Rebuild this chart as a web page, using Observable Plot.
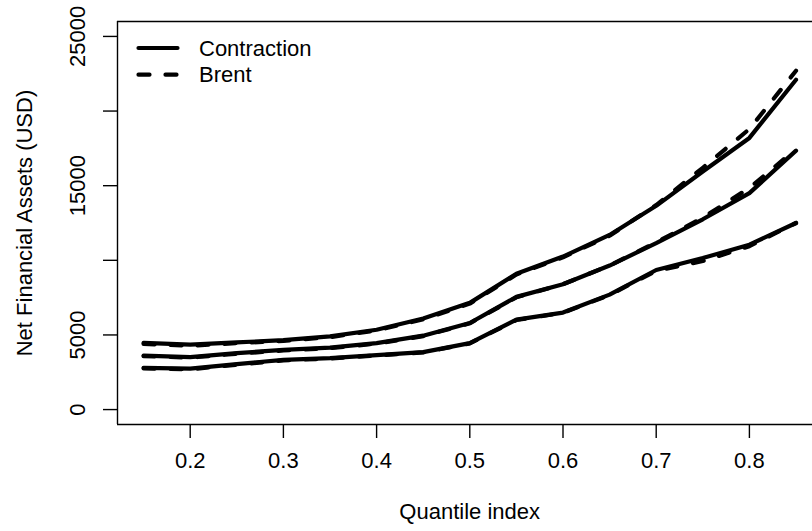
<!DOCTYPE html>
<html>
<head>
<meta charset="utf-8">
<script src="https://cdn.jsdelivr.net/npm/d3@7"></script>
<script src="https://cdn.jsdelivr.net/npm/@observablehq/plot@0.6"></script>
<style>
  html, body { margin: 0; padding: 0; background: #fff; }
  #chart svg { display: block; }
</style>
</head>
<body>
<div id="chart"></div>
<script>
// ---- data ----
const quantiles = [0.15, 0.2, 0.25, 0.3, 0.35, 0.4, 0.45, 0.5, 0.55, 0.6, 0.65, 0.7, 0.75, 0.8, 0.85];

const upperContraction = [4465, 4350, 4500, 4650, 4900, 5350, 6100, 7150, 9100, 10250, 11700, 13650, 15950, 18200, 22100];
const upperBrent       = [4400, 4280, 4450, 4600, 4850, 5300, 6050, 7100, 9050, 10200, 11650, 13700, 16200, 18800, 22700];

const middleContraction = [3620, 3520, 3780, 4000, 4150, 4450, 4950, 5800, 7550, 8400, 9650, 11150, 12750, 14500, 17350];
const middleBrent       = [3580, 3480, 3740, 3960, 4110, 4420, 4920, 5780, 7520, 8400, 9650, 11200, 12850, 14850, 17450];

const lowerContraction = [2800, 2740, 3050, 3330, 3450, 3650, 3850, 4450, 6030, 6500, 7700, 9350, 10150, 11050, 12500];
const lowerBrent       = [2760, 2700, 3000, 3300, 3420, 3620, 3830, 4430, 6000, 6480, 7680, 9300, 9950, 10950, 12500];

const seriesNames = ["Contraction", "Brent"];
const xTicks = [0.2, 0.3, 0.4, 0.5, 0.6, 0.7, 0.8];
const yTicks = [0, 5000, 10000, 15000, 20000, 25000];
const yTickLabels = [0, 5000, 15000, 25000];
const xLabel = "Quantile index";
const yLabel = "Net Financial Assets (USD)";

// ---- table for the library ----
const groups = [
  ["upper", upperContraction, upperBrent],
  ["middle", middleContraction, middleBrent],
  ["lower", lowerContraction, lowerBrent]
];
const rows = [];
for (const [g, c, b] of groups) {
  quantiles.forEach((q, i) => {
    rows.push({q, v: c[i], series: seriesNames[0], group: g});
    rows.push({q, v: b[i], series: seriesNames[1], group: g});
  });
}

// ---- layout (R base-graphics look) ----
const W = 812, H = 531;
const ML = 117, MT = 21, MB = 107, MR = 0;
const FS = 22;          // font size px
const LW = 4.2;         // line width of curves
const BW = 1.4;         // box / tick width
const DASH = "11,16";
const FONT = "'Liberation Sans', Arial, Helvetica, sans-serif";

// R usr ranges: data range extended by 4%; the right part of the plot region is cut by the image edge
const xMin = d3.min(quantiles), xMax = d3.max(quantiles);
const xPad = 0.04 * (xMax - xMin);
const regionWidth = 704.6; // full R plot region width in px
const xDomain = [xMin - xPad, (xMin - xPad) + (xMax - xMin + 2 * xPad) * (W - ML - MR) / regionWidth];
const yDomain = [0 - 0.04 * 25000, 25000 + 0.04 * 25000];

function legendMark(index, scales, values, dimensions) {
  const g = d3.create("svg:g")
    .attr("font-family", FONT).attr("font-size", FS).attr("text-anchor", "start");
  const x0 = dimensions.marginLeft, y0 = dimensions.marginTop;
  seriesNames.forEach((name, i) => {
    const y = y0 + 27 + i * 26.7;
    const ln = g.append("line")
      .attr("x1", x0 + 21.5).attr("x2", x0 + 60.5)
      .attr("y1", y).attr("y2", y)
      .attr("stroke", "black").attr("stroke-width", LW)
      .attr("stroke-linecap", "round");
    if (i === 1) ln.attr("stroke-dasharray", DASH);
    g.append("text")
      .attr("x", x0 + 82).attr("y", y).attr("dy", "0.35em")
      .attr("text-anchor", "start")
      .attr("fill", "black").text(name);
  });
  return g.node();
}

const chart = Plot.plot({
  width: W,
  height: H,
  marginLeft: ML,
  marginRight: MR,
  marginTop: MT,
  marginBottom: MB,
  style: {fontFamily: FONT, background: "#fff", overflow: "visible"},
  x: {domain: xDomain},
  y: {domain: yDomain},
  marks: [
    // box (left, top, bottom; right edge lies beyond the image)
    Plot.ruleX([xDomain[0]], {stroke: "black", strokeWidth: BW}),
    Plot.ruleY(yDomain, {stroke: "black", strokeWidth: BW}),
    // ticks
    Plot.axisX(xTicks, {tickSize: 14, tickFormat: () => "", strokeWidth: BW, stroke: "black", label: null}),
    Plot.axisY(yTicks, {tickSize: 14, tickFormat: () => "", strokeWidth: BW, stroke: "black", label: null}),
    // tick labels
    Plot.text(xTicks, {x: d => d, text: d => String(d), frameAnchor: "bottom", dy: 43, fontSize: FS, fill: "black", textAnchor: "middle"}),
    Plot.text(yTickLabels, {y: d => d, text: d => String(d), frameAnchor: "left", dx: -40, rotate: -90, fontSize: FS, fill: "black", textAnchor: "middle"}),
    // axis titles
    Plot.text([xLabel], {text: d => d, frameAnchor: "bottom", dy: 94, dx: 4.7, fontSize: FS, fill: "black", textAnchor: "middle"}),
    Plot.text([yLabel], {text: d => d, frameAnchor: "left", dx: -93, rotate: -90, fontSize: FS, fill: "black", textAnchor: "middle"}),
    // curves
    Plot.line(rows.filter(d => d.series === seriesNames[0]), {
      x: "q", y: "v", z: "group", stroke: "black", strokeWidth: LW,
      strokeLinecap: "round", strokeLinejoin: "round"
    }),
    Plot.line(rows.filter(d => d.series === seriesNames[1]), {
      x: "q", y: "v", z: "group", stroke: "black", strokeWidth: LW,
      strokeDasharray: DASH, strokeLinecap: "round", strokeLinejoin: "round"
    }),
    legendMark
  ]
});

document.getElementById("chart").appendChild(chart);
</script>
</body>
</html>
